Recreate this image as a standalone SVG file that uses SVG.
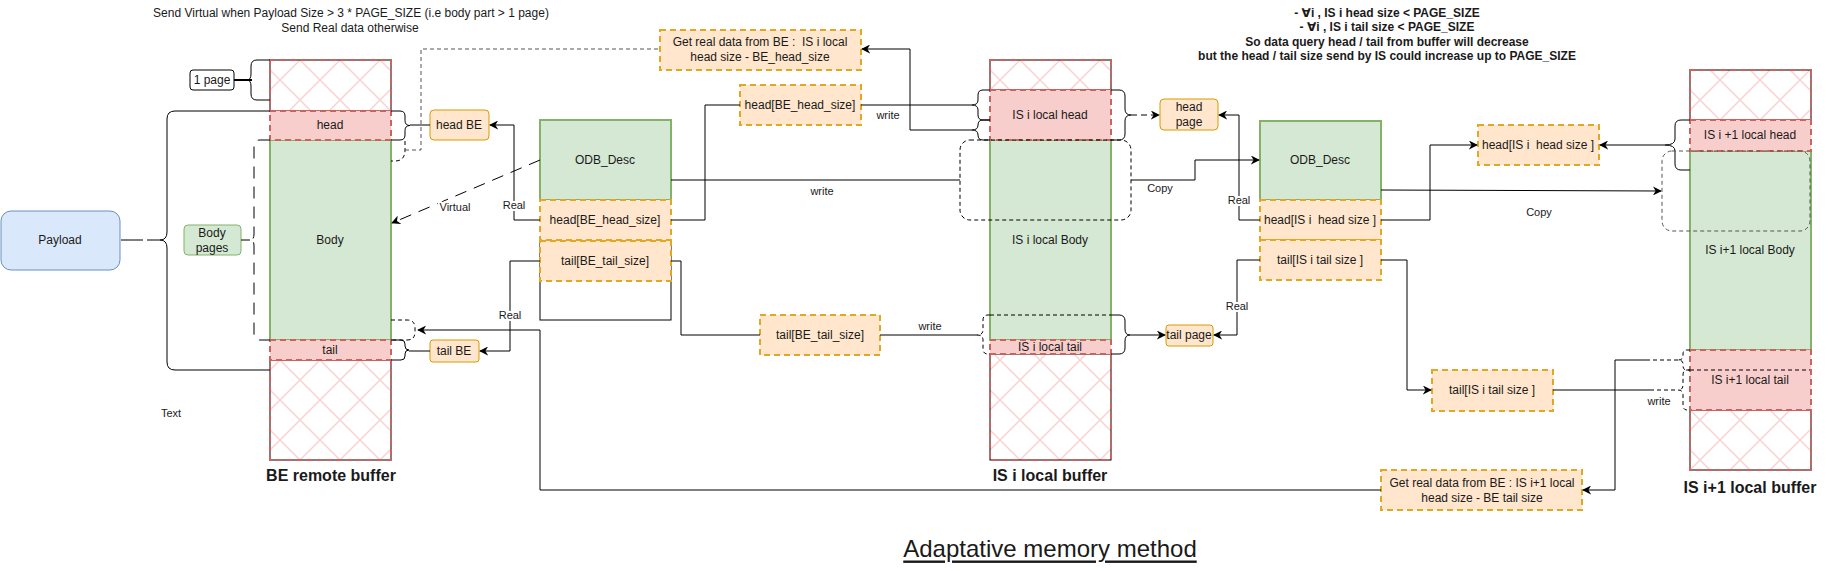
<svg xmlns="http://www.w3.org/2000/svg" width="1831" height="571" viewBox="0 0 1831 571">
<style>
text{font-family:"Liberation Sans","DejaVu Sans",Arial,sans-serif;fill:#1a1a1a;dominant-baseline:central;text-anchor:middle;white-space:pre}
.t11{font-size:11px}
.t12{font-size:12px}
.lbl{font-size:11px;stroke:#fff;stroke-width:4px;paint-order:stroke;stroke-linejoin:round}
.bold16{font-size:16px;font-weight:bold}
.note{font-size:12px;font-weight:bold}
.hatch{fill:url(#hatch);stroke:#000;stroke-width:1}
.reddash{fill:none;stroke:#c86462;stroke-width:2;stroke-dasharray:6 4}
.red{fill:#f8cecc;stroke:#c86462;stroke-width:2;stroke-dasharray:6 4}
.green{fill:#d5e8d4;stroke:#82b366;stroke-width:2}
.ofloat{fill:#ffe6cc;stroke:#e0a825;stroke-width:2;stroke-dasharray:6 4}
.obox{fill:#ffe6cc;stroke:#d79b00;stroke-width:1}
.ln{fill:none;stroke:#000;stroke-width:1}
.dsh{fill:none;stroke:#000;stroke-width:1;stroke-dasharray:4 3}
.dshg{fill:none;stroke:#555;stroke-width:1;stroke-dasharray:4 3}
.arr{marker-end:url(#ah)}
</style>
<defs>
<pattern id="hatch" patternUnits="userSpaceOnUse" width="40" height="40">
<rect width="40" height="40" fill="#fff"/>
<path d="M0,0 L40,40 M40,0 L0,40" stroke="#f9d3d2" stroke-width="1.5"/>
</pattern>
<marker id="ah" viewBox="0 0 10 10" refX="9" refY="5" markerWidth="9" markerHeight="9" markerUnits="userSpaceOnUse" orient="auto">
<path d="M0,0 L10,5 L0,10 L3,5 Z" fill="#000"/>
</marker>
</defs>

<g id="notes">
<text class="t12" x="351" y="13">Send Virtual when Payload Size &gt; 3 * PAGE_SIZE (i.e body part &gt; 1 page)</text>
<text class="t12" x="350" y="28">Send Real data otherwise</text>
<text class="note" x="1387" y="13">- ∀i , IS i head size &lt; PAGE_SIZE</text>
<text class="note" x="1387" y="27">- ∀i , IS i tail size &lt; PAGE_SIZE</text>
<text class="note" x="1387" y="42">So data query head / tail from buffer will decrease</text>
<text class="note" x="1387" y="56">but the head / tail size send by IS could increase up to PAGE_SIZE</text>
<text class="t11" x="171" y="413">Text</text>
<text x="1050" y="548" style="font-size:24px;text-decoration:underline">Adaptative memory method</text>
</g>

<g id="be-buffer">
<rect class="hatch" x="270" y="60" width="121" height="51"/>
<rect class="reddash" x="270" y="60" width="121" height="51"/>
<rect class="green" x="270" y="140" width="121" height="200"/>
<rect class="red" x="270" y="111" width="121" height="29"/>
<rect class="hatch" x="270" y="360" width="121" height="100"/>
<rect class="reddash" x="270" y="360" width="121" height="100"/>
<rect class="red" x="270" y="340" width="121" height="20"/>
<text class="t12" x="330" y="125">head</text>
<text class="t12" x="330" y="240">Body</text>
<text class="t12" x="330" y="350">tail</text>
<text class="bold16" x="331" y="475">BE remote buffer</text>
</g>

<g id="payload">
<rect x="1" y="211" width="119" height="59" rx="10" fill="#dae8fc" stroke="#6c8ebf" stroke-width="1"/>
<text class="t12" x="60" y="240">Payload</text>
</g>
<g id="one-page">
<rect x="190" y="70" width="44" height="20" rx="3" fill="#fff" stroke="#000" stroke-width="1"/>
<text class="t12" x="212" y="80">1 page</text>
</g>
<g id="body-pages">
<rect x="184" y="225" width="57" height="30" rx="4" fill="#d5e8d4" stroke="#82b366" stroke-width="1"/>
<text class="t12" x="212" y="233">Body</text>
<text class="t12" x="212" y="248">pages</text>
</g>
<g id="head-be">
<rect class="obox" x="430" y="110" width="59" height="30" rx="4"/>
<text class="t12" x="459" y="125">head BE</text>
</g>
<g id="tail-be">
<rect class="obox" x="430" y="340" width="49" height="22" rx="3"/>
<text class="t12" x="454" y="351">tail BE</text>
</g>

<g id="odb-be">
<rect x="540" y="240" width="131" height="80" fill="#fff" stroke="#000" stroke-width="1"/>
<rect class="green" x="540" y="120" width="131" height="80"/>
<rect class="ofloat" x="540" y="200" width="131" height="40"/>
<rect class="ofloat" x="540" y="241" width="131" height="40"/>
<text class="t12" x="605" y="160">ODB_Desc</text>
<text class="t12" x="605" y="220">head[BE_head_size]</text>
<text class="t12" x="605" y="261">tail[BE_tail_size]</text>
</g>
<g id="get-real-1">
<rect class="ofloat" x="660" y="30" width="201" height="40"/>
<text class="t12" x="760" y="42">Get real data from BE :  IS i local</text>
<text class="t12" x="760" y="57">head size - BE_head_size</text>
</g>
<g id="head-be-float">
<rect class="ofloat" x="740" y="85" width="121" height="40"/>
<text class="t12" x="800" y="105">head[BE_head_size]</text>
</g>
<g id="tail-be-float">
<rect class="ofloat" x="760" y="315" width="120" height="40"/>
<text class="t12" x="820" y="335">tail[BE_tail_size]</text>
</g>

<g id="is-i-buffer">
<rect class="hatch" x="990" y="60" width="121" height="30"/>
<rect class="reddash" x="990" y="60" width="121" height="30"/>
<rect class="green" x="990" y="140" width="121" height="200"/>
<rect class="red" x="990" y="90" width="121" height="50"/>
<rect class="hatch" x="990" y="354" width="121" height="106"/>
<rect class="reddash" x="990" y="354" width="121" height="106"/>
<rect class="red" x="990" y="340" width="121" height="14"/>
<text class="t12" x="1050" y="115">IS i local head</text>
<text class="t12" x="1050" y="240">IS i local Body</text>
<text class="t12" x="1050" y="347">IS i local tail</text>
<text class="bold16" x="1050" y="475">IS i local buffer</text>
</g>
<g id="head-page">
<rect class="obox" x="1160" y="99" width="58" height="31" rx="4"/>
<text class="t12" x="1189" y="107">head</text>
<text class="t12" x="1189" y="122">page</text>
</g>
<g id="tail-page">
<rect class="obox" x="1166" y="325" width="47" height="21" rx="3"/>
<text class="t12" x="1189" y="335">tail page</text>
</g>

<g id="odb-is">
<rect class="green" x="1260" y="121" width="121" height="79"/>
<rect class="ofloat" x="1260" y="200" width="121" height="40"/>
<rect class="ofloat" x="1260" y="240" width="121" height="40"/>
<text class="t12" x="1320" y="160">ODB_Desc</text>
<text class="t12" x="1320" y="220">head[IS i  head size ]</text>
<text class="t12" x="1320" y="260">tail[IS i tail size ]</text>
</g>
<g id="head-is-float">
<rect class="ofloat" x="1478" y="125" width="121" height="40"/>
<text class="t12" x="1538" y="145">head[IS i  head size ]</text>
</g>
<g id="tail-is-float">
<rect class="ofloat" x="1432" y="370" width="121" height="41"/>
<text class="t12" x="1492" y="390">tail[IS i tail size ]</text>
</g>
<g id="get-real-2">
<rect class="ofloat" x="1381" y="470" width="201" height="40"/>
<text class="t12" x="1482" y="483">Get real data from BE : IS i+1 local</text>
<text class="t12" x="1482" y="498">head size - BE tail size</text>
</g>

<g id="is-i1-buffer">
<rect class="hatch" x="1690" y="70" width="121" height="50"/>
<rect class="reddash" x="1690" y="70" width="121" height="50"/>
<rect class="green" x="1690" y="151" width="121" height="199"/>
<rect class="red" x="1690" y="120" width="121" height="31"/>
<rect class="hatch" x="1690" y="410" width="121" height="60"/>
<rect class="reddash" x="1690" y="410" width="121" height="60"/>
<rect class="red" x="1690" y="350" width="121" height="60"/>
<text class="t12" x="1750" y="135">IS i +1 local head</text>
<text class="t12" x="1750" y="250">IS i+1 local Body</text>
<text class="t12" x="1750" y="380">IS i+1 local tail</text>
<text class="bold16" x="1750" y="487">IS i+1 local buffer</text>
</g>

<g id="connectors">
<path class="ln" d="M270,60 L257,60 Q251,60 251,66 L251,74 Q251,80 247,80 Q251,80 251,86 L251,94 Q251,100 257,100 L270,100"/>
<path d="M234,80 L252,80" stroke="#000" stroke-width="2"/>
<path class="ln" d="M270,111 L175,111 Q167,111 167,119 L167,232 Q167,240 160,240 Q167,240 167,248 L167,362 Q167,370 175,370 L270,370"/>
<path class="ln" d="M121,240 L143,240 M147,240 L160,240"/>
<path d="M270,140 L260,140 Q254,140 254,146 L254,234 Q254,240 250,240 Q254,240 254,246 L254,334 Q254,340 260,340 L270,340" fill="none" stroke="#000" stroke-width="1" stroke-dasharray="12 8"/>
<path class="ln" d="M241,240 L250,240"/>
<path class="ln" d="M391,111 L400,111 Q405,111 405,116 L405,120.5 Q405,125.5 410,125.5 Q405,125.5 405,130.5 L405,135 Q405,140 400,140 L391,140"/>
<path class="ln" d="M410,125 L430,125"/>
<path class="dsh" d="M405,141 L405,150 Q405,161 395,161 L391,161"/>
<path class="dshg" d="M405,150 L421,150 L421,49 L660,49"/>
<path class="dsh" d="M391,320 L407,320 Q415,320 415,328 L415,332 Q415,340 407,340 L391,340"/>
<path class="ln" d="M391,340 L401,340 Q405,340 405,344 L405,346 Q405,350 409,350 Q405,350 405,354 L405,356 Q405,360 401,360 L391,360"/>
<path class="ln" d="M409,351 L430,351"/>
<path class="ln arr" d="M540,220 L514,220 L514,125 L490,125"/>
<path class="ln arr" d="M540,160 L392,223" stroke-dasharray="12 8"/>
<path class="ln arr" d="M540,261 L510,261 L510,351 L480,351"/>
<path class="ln" d="M671,220 L705,220 L705,105 L740,105"/>
<path class="ln" d="M861,105 L972,105"/>
<path class="ln arr" d="M972,130 L910,130 L910,49 L862,49"/>
<path class="ln" d="M671,180 L960,180"/>
<path class="ln" d="M671,261 L681,261 L681,335 L760,335"/>
<path class="ln" d="M880,335 L977,335"/>
<path class="ln arr" d="M1381,490 L540,490 L540,330 L418,330"/>
<path class="ln" d="M990,90 L983,90 Q978,90 978,95 L978,100 Q978,105 972,105 Q978,105 978,110 L978,115 Q978,120 983,120 L990,120"/>
<path class="ln" d="M990,120 L983,120 Q978,120 978,125 Q978,130 972,130 Q978,130 978,135 Q978,140 983,140 L990,140"/>
<path class="ln" d="M1111,90 L1119,90 Q1125,90 1125,96 L1125,109 Q1125,115 1131,115 Q1125,115 1125,121 L1125,134 Q1125,140 1119,140 L1111,140"/>
<path class="ln arr" d="M1131,115 L1159,115" stroke-dasharray="6 4"/>
<rect class="dsh" x="960" y="140" width="171" height="80" rx="10"/>
<path class="ln arr" d="M1131,180 L1195,180 L1195,160 L1259,160"/>
<path class="ln arr" d="M1260,220 L1239,220 L1239,115 L1219,115"/>
<path class="dsh" d="M990,315 L988,315 Q983,315 983,320 L983,330 Q983,335 977,335 Q983,335 983,340 L983,349 Q983,354 988,354 L990,354"/>
<path class="dsh" d="M990,315 L1111,315"/>
<path class="ln" d="M1111,315 L1119,315 Q1125,315 1125,321 L1125,329 Q1125,335 1130,335 Q1125,335 1125,341 L1125,348 Q1125,354 1119,354 L1111,354"/>
<path class="ln arr" d="M1130,335 L1165,335"/>
<path class="ln arr" d="M1260,260 L1237,260 L1237,335 L1214,335"/>
<path class="ln arr" d="M1381,220 L1430,220 L1430,145 L1477,145"/>
<path class="ln arr" d="M1381,190 L1661,191"/>
<path class="ln arr" d="M1381,260 L1407,260 L1407,390 L1431,390"/>
<path class="ln" d="M1553,390 L1650,390"/>
<path class="dsh" d="M1650,390 L1678,390"/>
<path class="ln" d="M1690,120 L1681,120 Q1675,120 1675,126 L1675,139 Q1675,145 1665,145 Q1675,145 1675,151 L1675,164 Q1675,170 1681,170 L1690,170"/>
<path class="ln arr" d="M1665,145 L1600,145"/>
<rect class="dshg" x="1662" y="151" width="148" height="80" rx="10"/>
<path class="dsh" d="M1690,370 L1810,370"/>
<path class="dsh" d="M1690,350 L1687,350 Q1683,350 1683,354 L1683,356 Q1683,360 1678,360 Q1683,360 1683,364 L1683,366 Q1683,370 1687,370 L1690,370"/>
<path class="dsh" d="M1690,370 L1687,370 Q1683,370 1683,375 L1683,385 Q1683,390 1678,390 Q1683,390 1683,395 L1683,405 Q1683,410 1687,410 L1690,410"/>
<path class="dsh" d="M1678,360 L1650,360"/>
<path class="ln arr" d="M1650,360 L1615,360 L1615,490 L1583,490"/>
</g>

<g id="edge-labels">
<text class="lbl" x="455" y="207">Virtual</text>
<text class="lbl" x="514" y="205">Real</text>
<text class="lbl" x="510" y="315">Real</text>
<text class="lbl" x="888" y="115">write</text>
<text class="lbl" x="822" y="191">write</text>
<text class="lbl" x="930" y="326">write</text>
<text class="lbl" x="1160" y="188">Copy</text>
<text class="lbl" x="1239" y="200">Real</text>
<text class="lbl" x="1237" y="306">Real</text>
<text class="lbl" x="1539" y="212">Copy</text>
<text class="lbl" x="1659" y="401">write</text>
</g>
</svg>
